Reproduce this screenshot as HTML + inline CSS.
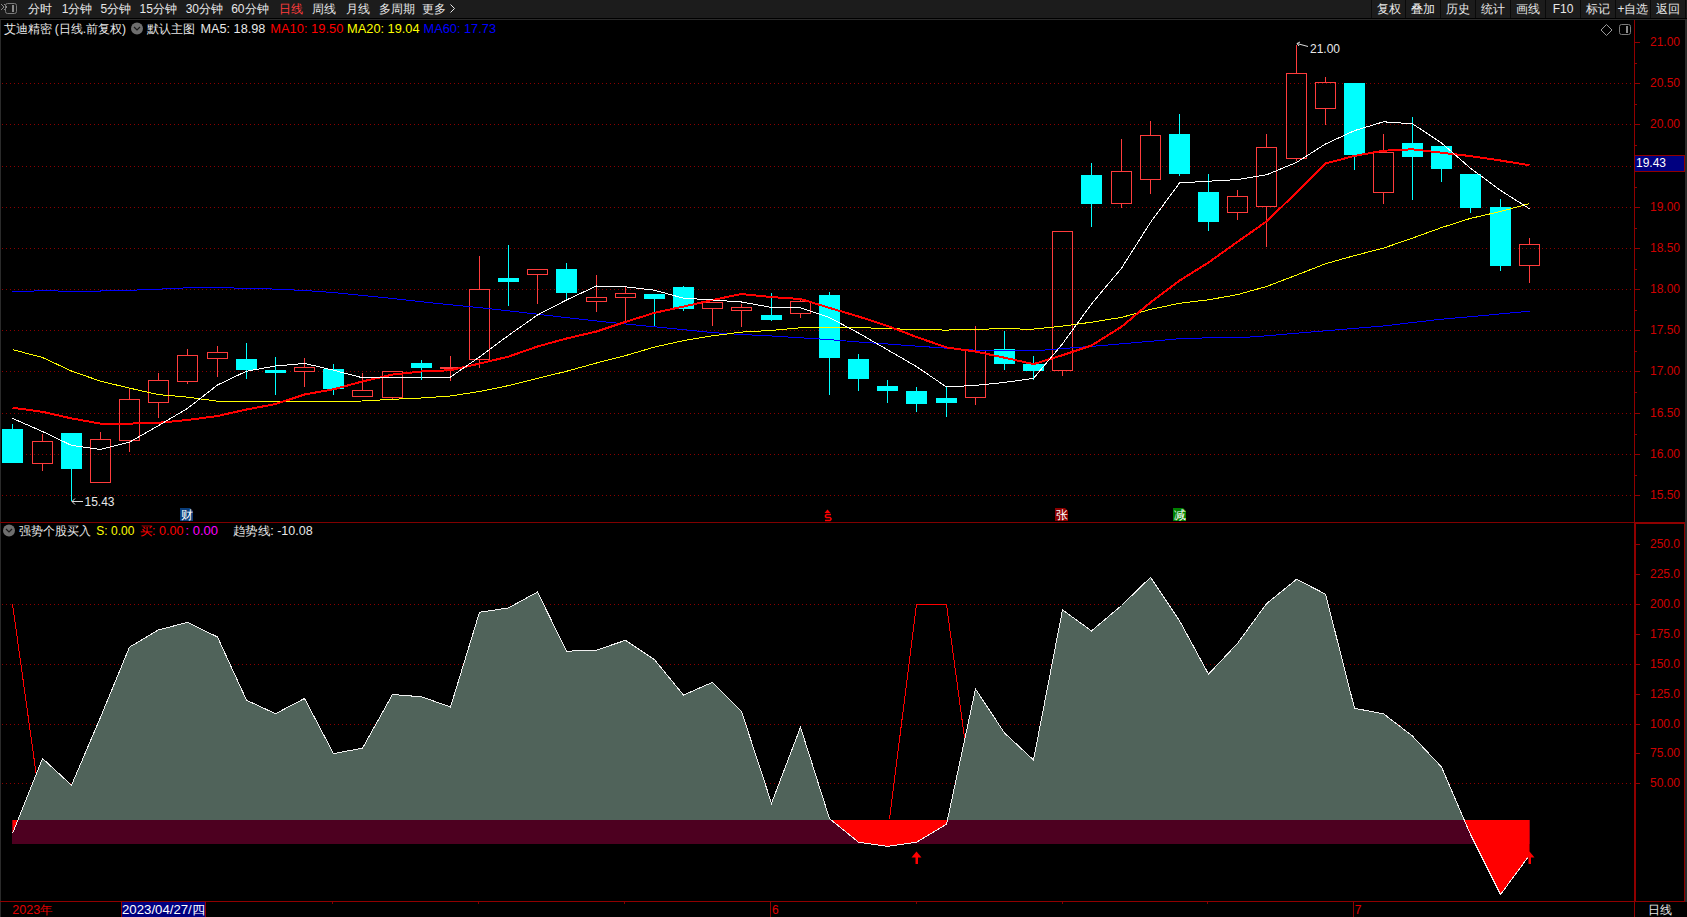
<!DOCTYPE html>
<html><head><meta charset="utf-8">
<style>
*{margin:0;padding:0;box-sizing:border-box}
html,body{width:1687px;height:917px;background:#000;overflow:hidden;font-family:"Liberation Sans",sans-serif}
.abs{position:absolute;white-space:nowrap}
#top{position:absolute;left:0;top:0;width:1687px;height:18px;background:#1c1c1c}
.t{font-size:12px;line-height:14px;color:#e8e8e8}
</style></head><body>
<div id="top"></div>
<svg width="1687" height="917" style="position:absolute;left:0;top:0" font-family="Liberation Sans, sans-serif">
<rect x="0" y="18" width="1687" height="1" fill="#000"/>
<rect x="0" y="19" width="1687" height="1" fill="#2a2a2a"/>
<rect x="0" y="19" width="1" height="898" fill="#2a2a2a"/>
<rect x="1685" y="19" width="2" height="883" fill="#2a2a2a"/>
<line x1="2" y1="83.5" x2="1632" y2="83.5" stroke="#8b0000" stroke-dasharray="1 3"/>
<line x1="2" y1="124.5" x2="1632" y2="124.5" stroke="#8b0000" stroke-dasharray="1 3"/>
<line x1="2" y1="166.5" x2="1632" y2="166.5" stroke="#8b0000" stroke-dasharray="1 3"/>
<line x1="2" y1="207.5" x2="1632" y2="207.5" stroke="#8b0000" stroke-dasharray="1 3"/>
<line x1="2" y1="248.5" x2="1632" y2="248.5" stroke="#8b0000" stroke-dasharray="1 3"/>
<line x1="2" y1="289.5" x2="1632" y2="289.5" stroke="#8b0000" stroke-dasharray="1 3"/>
<line x1="2" y1="330.5" x2="1632" y2="330.5" stroke="#8b0000" stroke-dasharray="1 3"/>
<line x1="2" y1="371.5" x2="1632" y2="371.5" stroke="#8b0000" stroke-dasharray="1 3"/>
<line x1="2" y1="413.5" x2="1632" y2="413.5" stroke="#8b0000" stroke-dasharray="1 3"/>
<line x1="2" y1="454.5" x2="1632" y2="454.5" stroke="#8b0000" stroke-dasharray="1 3"/>
<line x1="2" y1="495.5" x2="1632" y2="495.5" stroke="#8b0000" stroke-dasharray="1 3"/>
<line x1="2" y1="604.5" x2="1632" y2="604.5" stroke="#8b0000" stroke-dasharray="1 3"/>
<line x1="2" y1="664.5" x2="1632" y2="664.5" stroke="#8b0000" stroke-dasharray="1 3"/>
<line x1="2" y1="724.5" x2="1632" y2="724.5" stroke="#8b0000" stroke-dasharray="1 3"/>
<line x1="2" y1="783.5" x2="1632" y2="783.5" stroke="#8b0000" stroke-dasharray="1 3"/>
<rect x="12" y="424" width="1" height="39" fill="#00ffff"/>
<rect x="2" y="429" width="21" height="34" fill="#00ffff"/>
<rect x="42" y="434" width="1" height="7" fill="#ff3c3c"/>
<rect x="42" y="463" width="1" height="8" fill="#ff3c3c"/>
<rect x="32.5" y="441.5" width="20" height="22" fill="none" stroke="#ff3c3c" stroke-width="1"/>
<rect x="71" y="433" width="1" height="68" fill="#00ffff"/>
<rect x="61" y="433" width="21" height="36" fill="#00ffff"/>
<rect x="100" y="432" width="1" height="7" fill="#ff3c3c"/>
<rect x="90.5" y="439.5" width="20" height="43" fill="none" stroke="#ff3c3c" stroke-width="1"/>
<rect x="129" y="389" width="1" height="10" fill="#ff3c3c"/>
<rect x="129" y="440" width="1" height="12" fill="#ff3c3c"/>
<rect x="119.5" y="399.5" width="20" height="41" fill="none" stroke="#ff3c3c" stroke-width="1"/>
<rect x="158" y="373" width="1" height="7" fill="#ff3c3c"/>
<rect x="158" y="402" width="1" height="16" fill="#ff3c3c"/>
<rect x="148.5" y="380.5" width="20" height="22" fill="none" stroke="#ff3c3c" stroke-width="1"/>
<rect x="187" y="349" width="1" height="6" fill="#ff3c3c"/>
<rect x="187" y="381" width="1" height="3" fill="#ff3c3c"/>
<rect x="177.5" y="355.5" width="20" height="26" fill="none" stroke="#ff3c3c" stroke-width="1"/>
<rect x="217" y="346" width="1" height="6" fill="#ff3c3c"/>
<rect x="217" y="358" width="1" height="19" fill="#ff3c3c"/>
<rect x="207.5" y="352.5" width="20" height="6" fill="none" stroke="#ff3c3c" stroke-width="1"/>
<rect x="246" y="343" width="1" height="36" fill="#00ffff"/>
<rect x="236" y="359" width="21" height="11" fill="#00ffff"/>
<rect x="275" y="357" width="1" height="38" fill="#00ffff"/>
<rect x="265" y="370" width="21" height="3" fill="#00ffff"/>
<rect x="304" y="358" width="1" height="9" fill="#ff3c3c"/>
<rect x="304" y="371" width="1" height="16" fill="#ff3c3c"/>
<rect x="294.5" y="367.5" width="20" height="4" fill="none" stroke="#ff3c3c" stroke-width="1"/>
<rect x="333" y="364" width="1" height="31" fill="#00ffff"/>
<rect x="323" y="369" width="21" height="20" fill="#00ffff"/>
<rect x="362" y="373" width="1" height="17" fill="#ff3c3c"/>
<rect x="352.5" y="390.5" width="20" height="6" fill="none" stroke="#ff3c3c" stroke-width="1"/>
<rect x="392" y="397" width="1" height="2" fill="#ff3c3c"/>
<rect x="382.5" y="371.5" width="20" height="26" fill="none" stroke="#ff3c3c" stroke-width="1"/>
<rect x="421" y="360" width="1" height="20" fill="#00ffff"/>
<rect x="411" y="363" width="21" height="5" fill="#00ffff"/>
<rect x="450" y="356" width="1" height="11" fill="#ff3c3c"/>
<rect x="450" y="368" width="1" height="13" fill="#ff3c3c"/>
<rect x="440.5" y="367.5" width="20" height="1" fill="none" stroke="#ff3c3c" stroke-width="1"/>
<rect x="479" y="256" width="1" height="33" fill="#ff3c3c"/>
<rect x="479" y="359" width="1" height="9" fill="#ff3c3c"/>
<rect x="469.5" y="289.5" width="20" height="70" fill="none" stroke="#ff3c3c" stroke-width="1"/>
<rect x="508" y="245" width="1" height="61" fill="#00ffff"/>
<rect x="498" y="278" width="21" height="4" fill="#00ffff"/>
<rect x="537" y="274" width="1" height="30" fill="#ff3c3c"/>
<rect x="527.5" y="269.5" width="20" height="5" fill="none" stroke="#ff3c3c" stroke-width="1"/>
<rect x="566" y="263" width="1" height="38" fill="#00ffff"/>
<rect x="556" y="269" width="21" height="24" fill="#00ffff"/>
<rect x="596" y="275" width="1" height="22" fill="#ff3c3c"/>
<rect x="596" y="301" width="1" height="11" fill="#ff3c3c"/>
<rect x="586.5" y="297.5" width="20" height="4" fill="none" stroke="#ff3c3c" stroke-width="1"/>
<rect x="625" y="287" width="1" height="6" fill="#ff3c3c"/>
<rect x="625" y="297" width="1" height="24" fill="#ff3c3c"/>
<rect x="615.5" y="293.5" width="20" height="4" fill="none" stroke="#ff3c3c" stroke-width="1"/>
<rect x="654" y="294" width="1" height="32" fill="#00ffff"/>
<rect x="644" y="294" width="21" height="5" fill="#00ffff"/>
<rect x="683" y="286" width="1" height="25" fill="#00ffff"/>
<rect x="673" y="287" width="21" height="22" fill="#00ffff"/>
<rect x="712" y="308" width="1" height="18" fill="#ff3c3c"/>
<rect x="702.5" y="302.5" width="20" height="6" fill="none" stroke="#ff3c3c" stroke-width="1"/>
<rect x="741" y="304" width="1" height="3" fill="#ff3c3c"/>
<rect x="741" y="310" width="1" height="17" fill="#ff3c3c"/>
<rect x="731.5" y="307.5" width="20" height="3" fill="none" stroke="#ff3c3c" stroke-width="1"/>
<rect x="771" y="293" width="1" height="28" fill="#00ffff"/>
<rect x="761" y="315" width="21" height="5" fill="#00ffff"/>
<rect x="800" y="299" width="1" height="2" fill="#ff3c3c"/>
<rect x="800" y="313" width="1" height="5" fill="#ff3c3c"/>
<rect x="790.5" y="301.5" width="20" height="12" fill="none" stroke="#ff3c3c" stroke-width="1"/>
<rect x="829" y="292" width="1" height="103" fill="#00ffff"/>
<rect x="819" y="295" width="21" height="63" fill="#00ffff"/>
<rect x="858" y="354" width="1" height="37" fill="#00ffff"/>
<rect x="848" y="359" width="21" height="20" fill="#00ffff"/>
<rect x="887" y="380" width="1" height="23" fill="#00ffff"/>
<rect x="877" y="386" width="21" height="5" fill="#00ffff"/>
<rect x="916" y="387" width="1" height="25" fill="#00ffff"/>
<rect x="906" y="391" width="21" height="13" fill="#00ffff"/>
<rect x="946" y="387" width="1" height="30" fill="#00ffff"/>
<rect x="936" y="398" width="21" height="5" fill="#00ffff"/>
<rect x="975" y="326" width="1" height="24" fill="#ff3c3c"/>
<rect x="975" y="397" width="1" height="8" fill="#ff3c3c"/>
<rect x="965.5" y="350.5" width="20" height="47" fill="none" stroke="#ff3c3c" stroke-width="1"/>
<rect x="1004" y="331" width="1" height="39" fill="#00ffff"/>
<rect x="994" y="349" width="21" height="15" fill="#00ffff"/>
<rect x="1033" y="356" width="1" height="24" fill="#00ffff"/>
<rect x="1023" y="364" width="21" height="7" fill="#00ffff"/>
<rect x="1062" y="370" width="1" height="6" fill="#ff3c3c"/>
<rect x="1052.5" y="231.5" width="20" height="139" fill="none" stroke="#ff3c3c" stroke-width="1"/>
<rect x="1091" y="163" width="1" height="64" fill="#00ffff"/>
<rect x="1081" y="175" width="21" height="29" fill="#00ffff"/>
<rect x="1121" y="139" width="1" height="32" fill="#ff3c3c"/>
<rect x="1121" y="203" width="1" height="5" fill="#ff3c3c"/>
<rect x="1111.5" y="171.5" width="20" height="32" fill="none" stroke="#ff3c3c" stroke-width="1"/>
<rect x="1150" y="121" width="1" height="14" fill="#ff3c3c"/>
<rect x="1150" y="179" width="1" height="15" fill="#ff3c3c"/>
<rect x="1140.5" y="135.5" width="20" height="44" fill="none" stroke="#ff3c3c" stroke-width="1"/>
<rect x="1179" y="114" width="1" height="62" fill="#00ffff"/>
<rect x="1169" y="134" width="21" height="40" fill="#00ffff"/>
<rect x="1208" y="174" width="1" height="57" fill="#00ffff"/>
<rect x="1198" y="192" width="21" height="30" fill="#00ffff"/>
<rect x="1237" y="190" width="1" height="6" fill="#ff3c3c"/>
<rect x="1237" y="212" width="1" height="8" fill="#ff3c3c"/>
<rect x="1227.5" y="196.5" width="20" height="16" fill="none" stroke="#ff3c3c" stroke-width="1"/>
<rect x="1266" y="134" width="1" height="13" fill="#ff3c3c"/>
<rect x="1266" y="206" width="1" height="41" fill="#ff3c3c"/>
<rect x="1256.5" y="147.5" width="20" height="59" fill="none" stroke="#ff3c3c" stroke-width="1"/>
<rect x="1296" y="45" width="1" height="28" fill="#ff3c3c"/>
<rect x="1296" y="158" width="1" height="3" fill="#ff3c3c"/>
<rect x="1286.5" y="73.5" width="20" height="85" fill="none" stroke="#ff3c3c" stroke-width="1"/>
<rect x="1325" y="77" width="1" height="5" fill="#ff3c3c"/>
<rect x="1325" y="108" width="1" height="17" fill="#ff3c3c"/>
<rect x="1315.5" y="82.5" width="20" height="26" fill="none" stroke="#ff3c3c" stroke-width="1"/>
<rect x="1354" y="83" width="1" height="87" fill="#00ffff"/>
<rect x="1344" y="83" width="21" height="72" fill="#00ffff"/>
<rect x="1383" y="134" width="1" height="18" fill="#ff3c3c"/>
<rect x="1383" y="192" width="1" height="12" fill="#ff3c3c"/>
<rect x="1373.5" y="152.5" width="20" height="40" fill="none" stroke="#ff3c3c" stroke-width="1"/>
<rect x="1412" y="117" width="1" height="83" fill="#00ffff"/>
<rect x="1402" y="143" width="21" height="14" fill="#00ffff"/>
<rect x="1441" y="146" width="1" height="36" fill="#00ffff"/>
<rect x="1431" y="146" width="21" height="23" fill="#00ffff"/>
<rect x="1470" y="174" width="1" height="39" fill="#00ffff"/>
<rect x="1460" y="174" width="21" height="34" fill="#00ffff"/>
<rect x="1500" y="199" width="1" height="72" fill="#00ffff"/>
<rect x="1490" y="207" width="21" height="59" fill="#00ffff"/>
<rect x="1529" y="238" width="1" height="6" fill="#ff3c3c"/>
<rect x="1529" y="265" width="1" height="18" fill="#ff3c3c"/>
<rect x="1519.5" y="244.5" width="20" height="21" fill="none" stroke="#ff3c3c" stroke-width="1"/>
<polyline points="12.5,291.5 42.5,290.8 71.5,291.2 100.5,291.0 129.5,290.3 158.5,289.2 187.5,287.8 217.5,287.6 246.5,288.3 275.5,289.1 304.5,290.5 333.5,292.5 362.5,295.5 392.5,298.5 421.5,301.8 450.5,304.8 479.5,307.6 508.5,310.8 537.5,314.2 566.5,317.6 596.5,321.0 625.5,324.0 654.5,326.8 683.5,329.6 712.5,332.6 741.5,334.5 771.5,336.0 800.5,337.8 829.5,339.6 858.5,342.0 887.5,344.0 916.5,346.1 946.5,348.2 975.5,350.2 1004.5,350.2 1033.5,350.9 1062.5,348.6 1091.5,346.4 1121.5,343.8 1150.5,341.3 1179.5,338.7 1208.5,337.8 1237.5,337.9 1266.5,335.8 1296.5,333.2 1325.5,330.8 1354.5,328.4 1383.5,326.0 1412.5,322.5 1441.5,319.2 1470.5,316.7 1500.5,313.9 1529.5,311.2" fill="none" stroke="#0000ff" stroke-width="1" shape-rendering="crispEdges"/>
<polyline points="12.5,349.6 42.5,357.5 71.5,371.0 100.5,381.2 129.5,388.1 158.5,394.6 187.5,397.1 217.5,401.2 246.5,401.3 275.5,401.3 304.5,401.3 333.5,401.3 362.5,401.0 392.5,399.3 421.5,398.0 450.5,396.0 479.5,391.5 508.5,385.6 537.5,378.4 566.5,371.3 596.5,363.0 625.5,355.6 654.5,347.1 683.5,340.6 712.5,335.8 741.5,332.1 771.5,330.4 800.5,327.8 829.5,327.2 858.5,327.5 887.5,328.7 916.5,329.4 946.5,330.1 975.5,329.1 1004.5,328.9 1033.5,329.1 1062.5,326.1 1091.5,322.2 1121.5,317.4 1150.5,309.4 1179.5,303.3 1208.5,299.8 1237.5,294.6 1266.5,286.5 1296.5,275.1 1325.5,263.8 1354.5,255.6 1383.5,248.1 1412.5,238.1 1441.5,227.6 1470.5,218.4 1500.5,211.5 1529.5,203.6" fill="none" stroke="#ffff00" stroke-width="1" shape-rendering="crispEdges"/>
<polyline points="12.5,407.7 42.5,411.8 71.5,418.4 100.5,423.6 129.5,423.6 158.5,422.8 187.5,420.0 217.5,416.0 246.5,409.5 275.5,404.1 304.5,394.5 333.5,389.3 362.5,381.4 392.5,374.6 421.5,371.5 450.5,370.2 479.5,363.6 508.5,356.6 537.5,346.5 566.5,338.5 596.5,331.5 625.5,321.9 654.5,312.8 683.5,306.6 712.5,300.0 741.5,294.0 771.5,297.1 800.5,299.0 829.5,307.9 858.5,316.5 887.5,325.9 916.5,337.0 946.5,347.4 975.5,351.5 1004.5,357.7 1033.5,364.1 1062.5,355.2 1091.5,345.5 1121.5,326.8 1150.5,302.4 1179.5,280.7 1208.5,262.5 1237.5,241.8 1266.5,221.5 1296.5,192.4 1325.5,163.5 1354.5,155.9 1383.5,150.7 1412.5,149.3 1441.5,152.7 1470.5,156.1 1500.5,160.5 1529.5,165.3" fill="none" stroke="#ff0000" stroke-width="2" shape-rendering="crispEdges"/>
<polyline points="12.5,418.4 42.5,431.5 71.5,445.4 100.5,449.5 129.5,442.2 158.5,425.6 187.5,408.4 217.5,385.0 246.5,371.2 275.5,366.0 304.5,363.4 333.5,370.2 362.5,377.8 392.5,378.0 421.5,377.0 450.5,377.0 479.5,357.0 508.5,335.4 537.5,315.0 566.5,300.0 596.5,286.0 625.5,286.8 654.5,290.2 683.5,298.2 712.5,300.0 741.5,302.0 771.5,307.4 800.5,307.8 829.5,317.6 858.5,333.0 887.5,349.8 916.5,366.6 946.5,387.0 975.5,385.4 1004.5,382.4 1033.5,378.4 1062.5,343.8 1091.5,304.0 1121.5,268.2 1150.5,222.4 1179.5,183.0 1208.5,181.2 1237.5,179.6 1266.5,174.8 1296.5,162.4 1325.5,144.0 1354.5,130.6 1383.5,121.8 1412.5,123.8 1441.5,143.0 1470.5,168.2 1500.5,190.4 1529.5,208.8" fill="none" stroke="#ffffff" stroke-width="1" shape-rendering="crispEdges"/>
<path d="M1297,43.5 L1308,46.5 M1297,43.5 l3,-1.5 M1297,43.5 l2,2.5" stroke="#dddddd" stroke-width="1" fill="none"/>
<text x="1310" y="53" font-size="12" fill="#e8e8e8">21.00</text>
<path d="M72,501.5 L83,501.5 M72,501.5 l3,-3 M72,501.5 l3,3" stroke="#dddddd" stroke-width="1" fill="none"/>
<text x="84.5" y="506" font-size="12" fill="#e8e8e8">15.43</text>
<polyline points="12.5,604 42.3,818" fill="none" stroke="#ff0000" stroke-width="1" shape-rendering="crispEdges"/>
<polyline points="889.5,819 916.5,604.5 946.5,604.5 975.3,818" fill="none" stroke="#ff0000" stroke-width="1" shape-rendering="crispEdges"/>
<defs><clipPath id="above"><rect x="0" y="0" width="1687" height="820"/></clipPath><clipPath id="below"><rect x="0" y="819" width="1687" height="200"/></clipPath></defs>
<rect x="12" y="820" width="1518" height="24" fill="#4d0020"/>
<polygon points="12.5,820 12.5,833.4 42.5,758.4 71.5,785.3 100.5,717.3 129.5,647.1 158.5,629.9 187.5,622.4 217.5,637.0 246.5,700.2 275.5,713.7 304.5,698.5 333.5,753.6 362.5,748.2 392.5,694.5 421.5,696.8 450.5,707.0 479.5,612.3 508.5,607.9 537.5,592.0 566.5,651.2 596.5,650.1 625.5,640.3 654.5,659.6 683.5,695.1 712.5,682.3 741.5,711.4 771.5,803.3 800.5,727.3 829.5,818.6 858.5,842.2 887.5,846.3 916.5,842.2 946.5,824.3 975.5,689.0 1004.5,733.0 1033.5,760.0 1062.5,609.9 1091.5,630.9 1121.5,605.5 1150.5,577.4 1179.5,620.7 1208.5,674.2 1237.5,643.4 1266.5,603.7 1296.5,579.3 1325.5,594.1 1354.5,708.3 1383.5,713.8 1412.5,736.1 1441.5,767.0 1470.5,834.5 1500.5,894.5 1529.5,855.2 1529.5,820" fill="#ff0000" clip-path="url(#below)"/>
<polygon points="12.5,820 12.5,833.4 42.5,758.4 71.5,785.3 100.5,717.3 129.5,647.1 158.5,629.9 187.5,622.4 217.5,637.0 246.5,700.2 275.5,713.7 304.5,698.5 333.5,753.6 362.5,748.2 392.5,694.5 421.5,696.8 450.5,707.0 479.5,612.3 508.5,607.9 537.5,592.0 566.5,651.2 596.5,650.1 625.5,640.3 654.5,659.6 683.5,695.1 712.5,682.3 741.5,711.4 771.5,803.3 800.5,727.3 829.5,818.6 858.5,842.2 887.5,846.3 916.5,842.2 946.5,824.3 975.5,689.0 1004.5,733.0 1033.5,760.0 1062.5,609.9 1091.5,630.9 1121.5,605.5 1150.5,577.4 1179.5,620.7 1208.5,674.2 1237.5,643.4 1266.5,603.7 1296.5,579.3 1325.5,594.1 1354.5,708.3 1383.5,713.8 1412.5,736.1 1441.5,767.0 1470.5,834.5 1500.5,894.5 1529.5,855.2 1529.5,820" fill="#50635a" clip-path="url(#above)"/>
<polyline points="12.5,833.4 42.5,758.4 71.5,785.3 100.5,717.3 129.5,647.1 158.5,629.9 187.5,622.4 217.5,637.0 246.5,700.2 275.5,713.7 304.5,698.5 333.5,753.6 362.5,748.2 392.5,694.5 421.5,696.8 450.5,707.0 479.5,612.3 508.5,607.9 537.5,592.0 566.5,651.2 596.5,650.1 625.5,640.3 654.5,659.6 683.5,695.1 712.5,682.3 741.5,711.4 771.5,803.3 800.5,727.3 829.5,818.6 858.5,842.2 887.5,846.3 916.5,842.2 946.5,824.3 975.5,689.0 1004.5,733.0 1033.5,760.0 1062.5,609.9 1091.5,630.9 1121.5,605.5 1150.5,577.4 1179.5,620.7 1208.5,674.2 1237.5,643.4 1266.5,603.7 1296.5,579.3 1325.5,594.1 1354.5,708.3 1383.5,713.8 1412.5,736.1 1441.5,767.0 1470.5,834.5 1500.5,894.5 1529.5,855.2" fill="none" stroke="#f0f0f0" stroke-width="1" shape-rendering="crispEdges"/>
<path d="M911.5,857.5 L916.5,851.5 L921.5,857.5 Z" fill="#ff0000"/><rect x="915.5" y="857" width="2.5" height="7" fill="#ff0000"/>
<path d="M1524.5,857.5 L1529.5,851.5 L1534.5,857.5 Z" fill="#ff0000"/><rect x="1528.5" y="857" width="2.5" height="7" fill="#ff0000"/>
<text x="28.2" y="13" font-size="12" fill="#e8e8e8" text-anchor="start" >分时</text>
<text x="61.7" y="13" font-size="12" fill="#e8e8e8" text-anchor="start" >1分钟</text>
<text x="100.5" y="13" font-size="12" fill="#e8e8e8" text-anchor="start" >5分钟</text>
<text x="139.5" y="13" font-size="12" fill="#e8e8e8" text-anchor="start" >15分钟</text>
<text x="185.7" y="13" font-size="12" fill="#e8e8e8" text-anchor="start" >30分钟</text>
<text x="231.2" y="13" font-size="12" fill="#e8e8e8" text-anchor="start" >60分钟</text>
<text x="278.6" y="13" font-size="12" fill="#ff3c3c" text-anchor="start" >日线</text>
<text x="311.8" y="13" font-size="12" fill="#e8e8e8" text-anchor="start" >周线</text>
<text x="346.2" y="13" font-size="12" fill="#e8e8e8" text-anchor="start" >月线</text>
<text x="378.8" y="13" font-size="12" fill="#e8e8e8" text-anchor="start" >多周期</text>
<text x="422.3" y="13" font-size="12" fill="#e8e8e8" text-anchor="start" >更多</text>
<path d="M450.5,4.5 L454.5,8.5 L450.5,12.5" stroke="#e8e8e8" fill="none" stroke-width="1"/>
<path d="M1,4 L4,7 L1,10 M4,4 L7,7 L4,10" stroke="#8a8a8a" fill="none" stroke-width="1"/>
<rect x="5.5" y="3.5" width="11" height="10" rx="2" ry="2" stroke="#7a7a7a" fill="none" stroke-width="1"/>
<rect x="12" y="5" width="2" height="7" fill="#8a8a8a"/>
<text x="1388.5" y="13" font-size="12" fill="#e8e8e8" text-anchor="middle" >复权</text>
<text x="1423.0" y="13" font-size="12" fill="#e8e8e8" text-anchor="middle" >叠加</text>
<text x="1458.0" y="13" font-size="12" fill="#e8e8e8" text-anchor="middle" >历史</text>
<text x="1493.0" y="13" font-size="12" fill="#e8e8e8" text-anchor="middle" >统计</text>
<text x="1528.0" y="13" font-size="12" fill="#e8e8e8" text-anchor="middle" >画线</text>
<text x="1563.0" y="13" font-size="12" fill="#e8e8e8" text-anchor="middle" >F10</text>
<text x="1598.0" y="13" font-size="12" fill="#e8e8e8" text-anchor="middle" >标记</text>
<text x="1633.0" y="13" font-size="12" fill="#e8e8e8" text-anchor="middle" >+自选</text>
<text x="1668.0" y="13" font-size="12" fill="#e8e8e8" text-anchor="middle" >返回</text>
<rect x="1371" y="0" width="1" height="18" fill="#0a0a0a"/>
<rect x="1405" y="0" width="1" height="18" fill="#0a0a0a"/>
<rect x="1440" y="0" width="1" height="18" fill="#0a0a0a"/>
<rect x="1475" y="0" width="1" height="18" fill="#0a0a0a"/>
<rect x="1510" y="0" width="1" height="18" fill="#0a0a0a"/>
<rect x="1545" y="0" width="1" height="18" fill="#0a0a0a"/>
<rect x="1580" y="0" width="1" height="18" fill="#0a0a0a"/>
<rect x="1615" y="0" width="1" height="18" fill="#0a0a0a"/>
<rect x="1650" y="0" width="1" height="18" fill="#0a0a0a"/>
<rect x="1685" y="0" width="1" height="18" fill="#0a0a0a"/>
<text x="3.9" y="32.5" font-size="12" fill="#e8e8e8" text-anchor="start" >艾迪精密</text>
<text x="54.7" y="32.5" font-size="12" fill="#e8e8e8" text-anchor="start" >(日线.前复权)</text>
<circle cx="137" cy="28.5" r="6" fill="#6e6e6e"/><path d="M134,27 L137,30 L140,27" stroke="#1a1a1a" stroke-width="1.2" fill="none"/>
<text x="147.2" y="32.5" font-size="12" fill="#e8e8e8" text-anchor="start" >默认主图</text>
<text x="200.4" y="32.5" font-size="12" fill="#e8e8e8" text-anchor="start"  textLength="65" lengthAdjust="spacingAndGlyphs">MA5: 18.98</text>
<text x="270.3" y="32.5" font-size="12" fill="#ff0000" text-anchor="start"  textLength="73" lengthAdjust="spacingAndGlyphs">MA10: 19.50</text>
<text x="347.1" y="32.5" font-size="12" fill="#ffff00" text-anchor="start"  textLength="72.5" lengthAdjust="spacingAndGlyphs">MA20: 19.04</text>
<text x="423.5" y="32.5" font-size="12" fill="#0000ff" text-anchor="start"  textLength="72.5" lengthAdjust="spacingAndGlyphs">MA60: 17.73</text>
<path d="M1606.5,24.5 L1612,30 L1606.5,35.5 L1601,30 Z" stroke="#9a9a9a" fill="none" stroke-width="1"/>
<rect x="1619.5" y="24.5" width="11" height="10" rx="2" ry="2" stroke="#7a7a7a" fill="none" stroke-width="1"/>
<rect x="1626" y="26" width="2" height="7" fill="#8a8a8a"/>
<rect x="1634" y="20" width="1" height="502" fill="#900000"/>
<rect x="1635" y="42" width="5" height="1" fill="#900000"/>
<text x="1680" y="46" font-size="12" fill="#d00000" text-anchor="end" >21.00</text>
<rect x="1635" y="83" width="5" height="1" fill="#900000"/>
<text x="1680" y="87" font-size="12" fill="#d00000" text-anchor="end" >20.50</text>
<rect x="1635" y="124" width="5" height="1" fill="#900000"/>
<text x="1680" y="128" font-size="12" fill="#d00000" text-anchor="end" >20.00</text>
<rect x="1635" y="166" width="5" height="1" fill="#900000"/>
<text x="1680" y="170" font-size="12" fill="#d00000" text-anchor="end" >19.50</text>
<rect x="1635" y="207" width="5" height="1" fill="#900000"/>
<text x="1680" y="211" font-size="12" fill="#d00000" text-anchor="end" >19.00</text>
<rect x="1635" y="248" width="5" height="1" fill="#900000"/>
<text x="1680" y="252" font-size="12" fill="#d00000" text-anchor="end" >18.50</text>
<rect x="1635" y="289" width="5" height="1" fill="#900000"/>
<text x="1680" y="293" font-size="12" fill="#d00000" text-anchor="end" >18.00</text>
<rect x="1635" y="330" width="5" height="1" fill="#900000"/>
<text x="1680" y="334" font-size="12" fill="#d00000" text-anchor="end" >17.50</text>
<rect x="1635" y="371" width="5" height="1" fill="#900000"/>
<text x="1680" y="375" font-size="12" fill="#d00000" text-anchor="end" >17.00</text>
<rect x="1635" y="413" width="5" height="1" fill="#900000"/>
<text x="1680" y="417" font-size="12" fill="#d00000" text-anchor="end" >16.50</text>
<rect x="1635" y="454" width="5" height="1" fill="#900000"/>
<text x="1680" y="458" font-size="12" fill="#d00000" text-anchor="end" >16.00</text>
<rect x="1635" y="495" width="5" height="1" fill="#900000"/>
<text x="1680" y="499" font-size="12" fill="#d00000" text-anchor="end" >15.50</text>
<rect x="1635" y="63" width="2" height="1" fill="#900000"/>
<rect x="1635" y="104" width="2" height="1" fill="#900000"/>
<rect x="1635" y="145" width="2" height="1" fill="#900000"/>
<rect x="1635" y="187" width="2" height="1" fill="#900000"/>
<rect x="1635" y="228" width="2" height="1" fill="#900000"/>
<rect x="1635" y="269" width="2" height="1" fill="#900000"/>
<rect x="1635" y="310" width="2" height="1" fill="#900000"/>
<rect x="1635" y="351" width="2" height="1" fill="#900000"/>
<rect x="1635" y="392" width="2" height="1" fill="#900000"/>
<rect x="1635" y="434" width="2" height="1" fill="#900000"/>
<rect x="1635" y="475" width="2" height="1" fill="#900000"/>
<rect x="1634.5" y="155.5" width="50" height="16" fill="#000080" stroke="#900000" stroke-width="1"/>
<text x="1636" y="167" font-size="12" fill="#ffffff" text-anchor="start" >19.43</text>
<path d="M180,508 h10 l3,3 v10 h-13 Z" fill="#0a3d7a"/>
<text x="186.5" y="519" font-size="12" fill="#ffffff" text-anchor="middle" >财</text>
<path d="M1055,508 h10 l3,3 v10 h-13 Z" fill="#8b0000"/>
<text x="1061.5" y="519" font-size="12" fill="#ffffff" text-anchor="middle" >张</text>
<path d="M1173,508 h10 l3,3 v10 h-13 Z" fill="#008000"/>
<text x="1179.5" y="519" font-size="12" fill="#ffffff" text-anchor="middle" >减</text>
<path d="M827.5,509.5 L830.5,513 L824.5,513 Z" fill="#ff0000"/>
<path d="M831,514.5 L826.5,514.5 L825.5,515.5 L825.5,516.8 L826.5,517.5 L830,517.5 L831,518.5 L831,519.5 L830,520.5 L825,520.5" stroke="#ff0000" stroke-width="1.5" fill="none"/>
<rect x="0" y="522" width="1634" height="1" fill="#800000"/>
<rect x="1634" y="522" width="51" height="2" fill="#900000"/>
<rect x="1634" y="522" width="2" height="379" fill="#900000"/>
<rect x="1684" y="522" width="1" height="379" fill="#900000"/>
<circle cx="9" cy="530.5" r="6" fill="#6e6e6e"/><path d="M6,529 L9,532 L12,529" stroke="#1a1a1a" stroke-width="1.2" fill="none"/>
<text x="18.8" y="534.5" font-size="12" fill="#e8e8e8" text-anchor="start" >强势个股买入</text>
<text x="96.3" y="534.5" font-size="12" fill="#ffff00" text-anchor="start" >S: 0.00</text>
<text x="139.5" y="534.5" font-size="12" fill="#ff0000" text-anchor="start"  textLength="44" lengthAdjust="spacingAndGlyphs">买: 0.00</text>
<text x="185.5" y="534.5" font-size="12" fill="#ff00ff" text-anchor="start"  textLength="32.5" lengthAdjust="spacingAndGlyphs">: 0.00</text>
<text x="232.7" y="534.5" font-size="12" fill="#e8e8e8" text-anchor="start"  textLength="80" lengthAdjust="spacingAndGlyphs">趋势线: -10.08</text>
<rect x="1636" y="544" width="4" height="1" fill="#900000"/>
<text x="1680" y="548" font-size="12" fill="#d00000" text-anchor="end" >250.0</text>
<rect x="1636" y="574" width="4" height="1" fill="#900000"/>
<text x="1680" y="578" font-size="12" fill="#d00000" text-anchor="end" >225.0</text>
<rect x="1636" y="604" width="4" height="1" fill="#900000"/>
<text x="1680" y="608" font-size="12" fill="#d00000" text-anchor="end" >200.0</text>
<rect x="1636" y="634" width="4" height="1" fill="#900000"/>
<text x="1680" y="638" font-size="12" fill="#d00000" text-anchor="end" >175.0</text>
<rect x="1636" y="664" width="4" height="1" fill="#900000"/>
<text x="1680" y="668" font-size="12" fill="#d00000" text-anchor="end" >150.0</text>
<rect x="1636" y="694" width="4" height="1" fill="#900000"/>
<text x="1680" y="698" font-size="12" fill="#d00000" text-anchor="end" >125.0</text>
<rect x="1636" y="724" width="4" height="1" fill="#900000"/>
<text x="1680" y="728" font-size="12" fill="#d00000" text-anchor="end" >100.0</text>
<rect x="1636" y="753" width="4" height="1" fill="#900000"/>
<text x="1680" y="757" font-size="12" fill="#d00000" text-anchor="end" >75.00</text>
<rect x="1636" y="783" width="4" height="1" fill="#900000"/>
<text x="1680" y="787" font-size="12" fill="#d00000" text-anchor="end" >50.00</text>
<rect x="0" y="901" width="1685" height="1" fill="#900000"/>
<rect x="1634" y="901" width="1" height="16" fill="#900000"/>
<text x="12.3" y="914" font-size="12" fill="#e00000" text-anchor="start"  textLength="40.5" lengthAdjust="spacingAndGlyphs">2023年</text>
<rect x="121.5" y="901.5" width="84" height="16" fill="#000080" stroke="#900000" stroke-width="1"/>
<text x="122" y="914" font-size="12" fill="#ffffff" text-anchor="start"  textLength="83" lengthAdjust="spacingAndGlyphs">2023/04/27/四</text>
<rect x="770" y="902" width="1" height="15" fill="#900000"/>
<text x="772" y="914" font-size="12" fill="#e00000" text-anchor="start" >6</text>
<rect x="1353" y="902" width="1" height="15" fill="#900000"/>
<text x="1354.8" y="914" font-size="12" fill="#e00000" text-anchor="start" >7</text>
<text x="1648" y="914" font-size="12" fill="#e8e8e8" text-anchor="start" >日线</text>
<rect x="332" y="902" width="1" height="2" fill="#800000"/>
<rect x="478" y="902" width="1" height="2" fill="#800000"/>
<rect x="624" y="902" width="1" height="2" fill="#800000"/>
<rect x="916" y="902" width="1" height="2" fill="#800000"/>
<rect x="1062" y="902" width="1" height="2" fill="#800000"/>
<rect x="1207" y="902" width="1" height="2" fill="#800000"/>
</svg>
</body></html>
